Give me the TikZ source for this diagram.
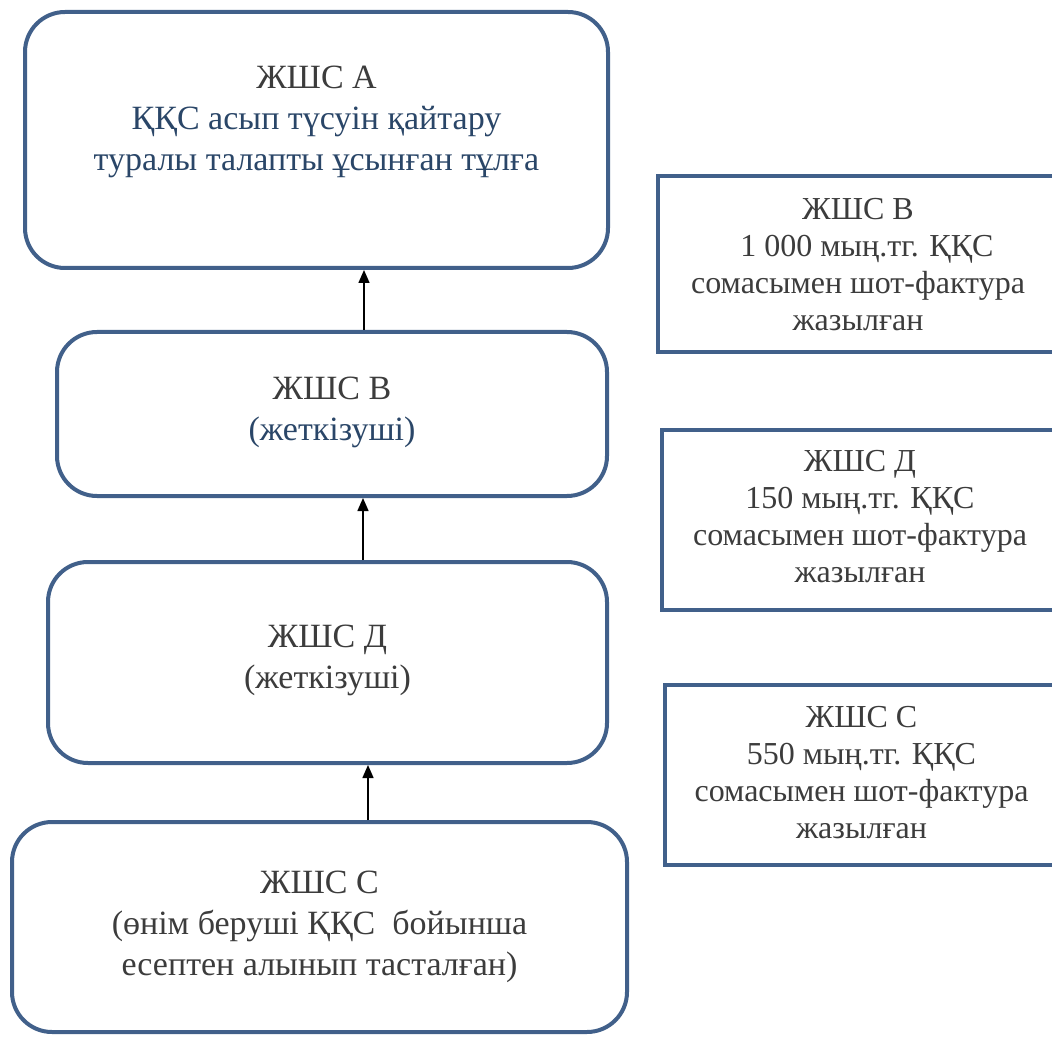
\documentclass[tikz,border=0pt]{standalone}
\usepackage{fontspec}
\setmainfont{Liberation Serif}
\usetikzlibrary{arrows.meta}
\definecolor{frame}{HTML}{41608A}
\definecolor{txtgray}{HTML}{3C3C3C}
\definecolor{txtblue}{HTML}{2A4668}
\tikzset{
  rbox/.style={draw=frame, line width=4pt, rounded corners=40pt, fill=white, inner sep=0pt},
  sbox/.style={draw=frame, line width=4pt, fill=white, inner sep=0pt},
  ltxt/.style={align=center, text=txtgray, font=\fontsize{34}{41}\selectfont},
  rtxt/.style={align=center, text=txtgray, font=\fontsize{32}{37}\selectfont},
  arr/.style={draw=black, line width=1.5pt, -{Triangle[length=13pt,width=11pt]}}
}
\begin{document}
\begin{tikzpicture}[x=1pt,y=-1pt]
\useasboundingbox[fill=white] (0,0) rectangle (1052,1040);
\clip (0,0) rectangle (1052,1040);
% left column
\node[rbox, minimum width=583pt, minimum height=256pt] (A) at (316.5,140) {};
\node[ltxt] (At) at (316.5,122) {ЖШС А\\\textcolor{txtblue}{ҚҚС асып түсуін қайтару}\\\textcolor{txtblue}{туралы талапты ұсынған тұлға}};
\node[rbox, minimum width=550pt, minimum height=164pt] (B) at (332,414) {};
\node[ltxt] (Bt) at (332,412) {ЖШС В\\\textcolor{txtblue}{(жеткізуші)}};
\node[rbox, minimum width=559pt, minimum height=201pt] (D) at (327.5,662.5) {};
\node[ltxt] (Dt) at (327.5,660) {ЖШС Д\\(жеткізуші)};
\node[rbox, minimum width=615pt, minimum height=210pt] (C) at (319.5,927) {};
\node[ltxt] (Ct) at (319.5,927) {ЖШС С\\(өнім беруші ҚҚС\ \ бойынша\\есептен алынып тасталған)};
% right column
\node[sbox, minimum width=400pt, minimum height=176pt] (RB) at (858,264) {};
\node[rtxt] (RBt) at (858,265) {ЖШС В\\\hspace*{18pt}1 000 мың.тг. ҚҚС\\сомасымен шот-фактура\\жазылған};
\node[sbox, minimum width=396pt, minimum height=180pt] (RD) at (860,520) {};
\node[rtxt] (RDt) at (860,517) {ЖШС Д\\150 мың.тг. ҚҚС\\сомасымен шот-фактура\\жазылған};
\node[sbox, minimum width=393pt, minimum height=180pt] (RC) at (861.5,775) {};
\node[rtxt] (RCt) at (861.5,773) {ЖШС С\\550 мың.тг. ҚҚС\\сомасымен шот-фактура\\жазылған};
% connectors
\draw[arr] (B.north -| 364,0) -- (A.south -| 364,0);
\draw[arr] (D.north -| 363,0) -- (B.south -| 363,0);
\draw[arr] (C.north -| 368,0) -- (D.south -| 368,0);
\end{tikzpicture}
\end{document}
